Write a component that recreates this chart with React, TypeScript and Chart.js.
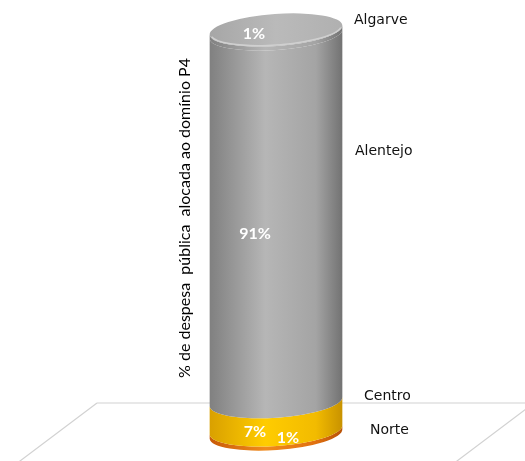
import React, { useEffect, useRef } from "react";
import { Chart, registerables } from "chart.js";
Chart.register(...registerables);

const categories = ["P4"];
const seriesNames = ["Norte", "Centro", "Alentejo", "Algarve"];
const seriesValues = [1, 7, 91, 1];
const valueLabels = ["1%", "7%", "91%", "1%"];
const axisTitle = "% de despesa  pública  alocada ao domínio P4";

// styling (not data)
const palettes = [
  ["#c85a08", "#f08a1c", "#e07010", "#b85206"],
  ["#d9a000", "#ffcc00", "#f2bb00", "#c89200"],
  ["#808080", "#b6b6b6", "#a4a4a4", "#727272"],
  ["#808080", "#b6b6b6", "#a4a4a4", "#727272"],
];
const nameAnchorValues = [1, 9.4, 70, 102.5];
const nameOffsetsX = [94, 88, 79, 78];
const labelOffsets = [
  [12, -10],
  [-21, 0],
  [-21, 0],
  [-22, 0],
];
const RY = 16;
const ROT = -0.07;

const cylPlugin = {
  id: "cylinders",
  beforeDatasetsDraw(chart: any) {
    const ctx = chart.ctx;
    const y = chart.scales.y;
    const el = chart.getDatasetMeta(0).data[0];
    const cx = el.x;
    const base = y.getPixelForValue(0);
    const fy = base - 31;
    ctx.save();
    ctx.strokeStyle = "#d2d2d2";
    ctx.lineWidth = 1.2;
    ctx.beginPath();
    ctx.moveTo(cx - 179, fy);
    ctx.lineTo(chart.width + 5, fy);
    ctx.moveTo(cx - 179, fy);
    ctx.lineTo(cx - 179 - 77 * 1.3, fy + 58 * 1.3);
    ctx.moveTo(cx + 258, fy);
    ctx.lineTo(cx + 258 - 77 * 1.3, fy + 58 * 1.3);
    ctx.stroke();
    ctx.restore();
  },
  afterDatasetsDraw(chart: any) {
    const ctx = chart.ctx;
    const n = chart.data.datasets.length;
    const yScale = chart.scales.y;
    ctx.save();
    let topY = 0;
    let cxAll = 0;
    let rxAll = 0;
    for (let i = 0; i < n; i++) {
      const el = chart.getDatasetMeta(i).data[0];
      const cx = el.x;
      const rx = el.width / 2;
      const yTop = el.y;
      const yBot = el.base;
      cxAll = cx;
      rxAll = rx;
      topY = yTop;
      const p = palettes[i];
      const g = ctx.createLinearGradient(cx - rx, 0, cx + rx, 0);
      g.addColorStop(0, p[0]);
      g.addColorStop(0.42, p[1]);
      g.addColorStop(0.8, p[2]);
      g.addColorStop(1, p[3]);
      ctx.fillStyle = g;
      ctx.beginPath();
      ctx.ellipse(cx, yBot, rx, RY, ROT, 0, Math.PI, false);
      ctx.lineTo(cx - rx * Math.cos(ROT), yTop - rx * Math.sin(ROT));
      ctx.ellipse(cx, yTop, rx, RY, ROT, Math.PI, 0, true);
      ctx.closePath();
      ctx.fill();
    }
    // top cap
    const cg = ctx.createLinearGradient(cxAll - rxAll, 0, cxAll + rxAll, 0);
    cg.addColorStop(0, "#a6a6a6");
    cg.addColorStop(0.5, "#bababa");
    cg.addColorStop(1, "#b0b0b0");
    ctx.fillStyle = cg;
    ctx.beginPath();
    ctx.ellipse(cxAll, topY, rxAll, RY, ROT, 0, Math.PI * 2);
    ctx.fill();
    ctx.strokeStyle = "#d0d0d0";
    ctx.lineWidth = 1.5;
    ctx.beginPath();
    ctx.ellipse(cxAll, topY, rxAll - 1, RY - 1, ROT, 0.15, Math.PI - 0.15, false);
    ctx.stroke();

    // value labels
    ctx.fillStyle = "#ffffff";
    ctx.font = "bold 16px Lato";
    ctx.textAlign = "center";
    ctx.textBaseline = "middle";
    for (let i = 0; i < n; i++) {
      const el = chart.getDatasetMeta(i).data[0];
      const mid = (el.y + el.base) / 2;
      const ly = i === n - 1 ? el.y + 4 : mid + RY;
      ctx.fillText(valueLabels[i], el.x + labelOffsets[i][0], ly + labelOffsets[i][1]);
    }

    // series names
    ctx.fillStyle = "#111111";
    ctx.font = "14px 'DejaVu Sans'";
    ctx.textAlign = "left";
    for (let i = 0; i < n; i++) {
      ctx.fillText(seriesNames[i], cxAll + nameOffsetsX[i], yScale.getPixelForValue(nameAnchorValues[i]));
    }

    // axis title
    ctx.save();
    ctx.translate(cxAll - 91, (yScale.top + yScale.bottom) / 2 - 14);
    ctx.rotate(-Math.PI / 2);
    ctx.font = "16px Lato";
    ctx.textAlign = "center";
    ctx.fillStyle = "#000000";
    ctx.fillText(axisTitle, 0, 0);
    ctx.restore();

    ctx.restore();
  },
};

export default function App() {
  const ref = useRef<HTMLCanvasElement>(null);
  useEffect(() => {
    const chart = new Chart(ref.current!, {
      type: "bar",
      data: {
        labels: categories,
        datasets: seriesNames.map((name, i) => ({
          label: name,
          data: [seriesValues[i]],
          backgroundColor: "rgba(0,0,0,0)",
          borderWidth: 0,
        })),
      },
      options: {
        animation: false,
        responsive: false,
        devicePixelRatio: 1,
        layout: { padding: { left: 196, right: 169, top: 30, bottom: 27 } },
        plugins: { legend: { display: false }, tooltip: { enabled: false } },
        datasets: { bar: { categoryPercentage: 1, barPercentage: 0.83125 } },
        scales: {
          x: { display: false, stacked: true },
          y: { display: false, stacked: true, min: 0, max: 100 },
        },
      },
      plugins: [cylPlugin],
    });
    return () => chart.destroy();
  }, []);
  return (
    <div style={{ position: "fixed", left: 0, top: 0, width: 525, height: 461, background: "#fff" }}>
      <canvas ref={ref} width={525} height={461} />
    </div>
  );
}
